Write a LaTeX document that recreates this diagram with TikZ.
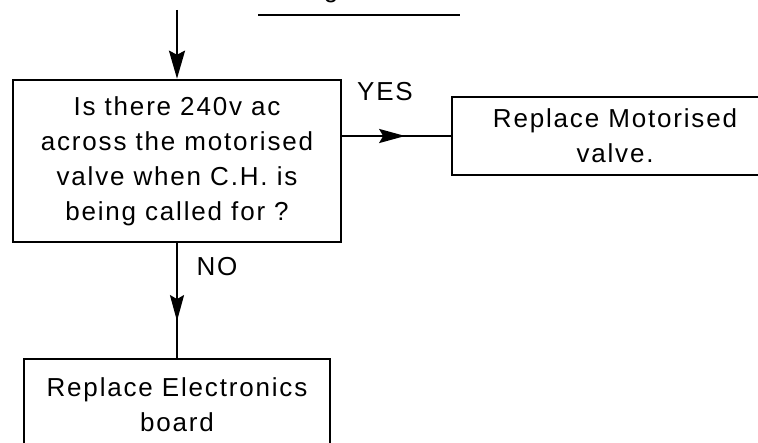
\documentclass[tikz,border=0pt]{standalone}
\usepackage{fontspec}
\setmainfont{Liberation Sans}[LetterSpace=7]
\usetikzlibrary{arrows.meta, calc, decorations.markings}
\tikzset{
  box/.style={
    rectangle, draw=black, line width=1.3pt,
    align=center, inner sep=0pt,
    font=\fontsize{13pt}{17.5pt}\selectfont
  },
  arr/.style  = {-{Stealth[length=14pt, width=8pt, inset=2pt]}, line width=1.1pt},
  midarr/.style={line width=1.1pt, postaction={decorate},
    decoration={markings, mark=at position #1 with {\arrow{Stealth[length=13pt, width=7pt, inset=2pt]}}}},
  lbl/.style  = {font=\fontsize{13pt}{14pt}\selectfont, inner sep=1pt},
}

\begin{document}
\begin{tikzpicture}[x=0.5pt, y=-0.5pt]
\useasboundingbox (0,0) rectangle (758,443);

%% -- Title (cut off at the top) ---------------------------------------------
\node[lbl, anchor=base] (ttl) at (331,-2) {g};
\draw[line width=1.4pt] (258,15) -- (460,15);

%% -- Boxes --------------------------------------------------------------------
\node[box, minimum width=164pt, minimum height=81pt] (q1) at (177,161)
  {Is there 240v ac\\across the motorised\\valve when C.H. is\\being called for ?};
\node[box, minimum width=163pt, minimum height=39pt] (valve) at (615,136)
  {Replace Motorised\\valve.};
\node[box, minimum width=153pt, minimum height=46pt] (board) at (177,405)
  {Replace Electronics\\board};

%% -- Entry arrow ------------------------------------------------------------
\coordinate (in) at (177,10);
\draw[arr] (in) -- (q1.north);

%% -- YES / NO -----------------------------------------------------------------
\draw[midarr=0.58] (q1.east |- valve.west) -- (valve.west);
\node[lbl] (yes) at (385,92) {YES};
\draw[midarr=0.68] (q1.south) -- (board.north);
\node[lbl] (no) at (217,267) {NO};

\end{tikzpicture}
\end{document}
